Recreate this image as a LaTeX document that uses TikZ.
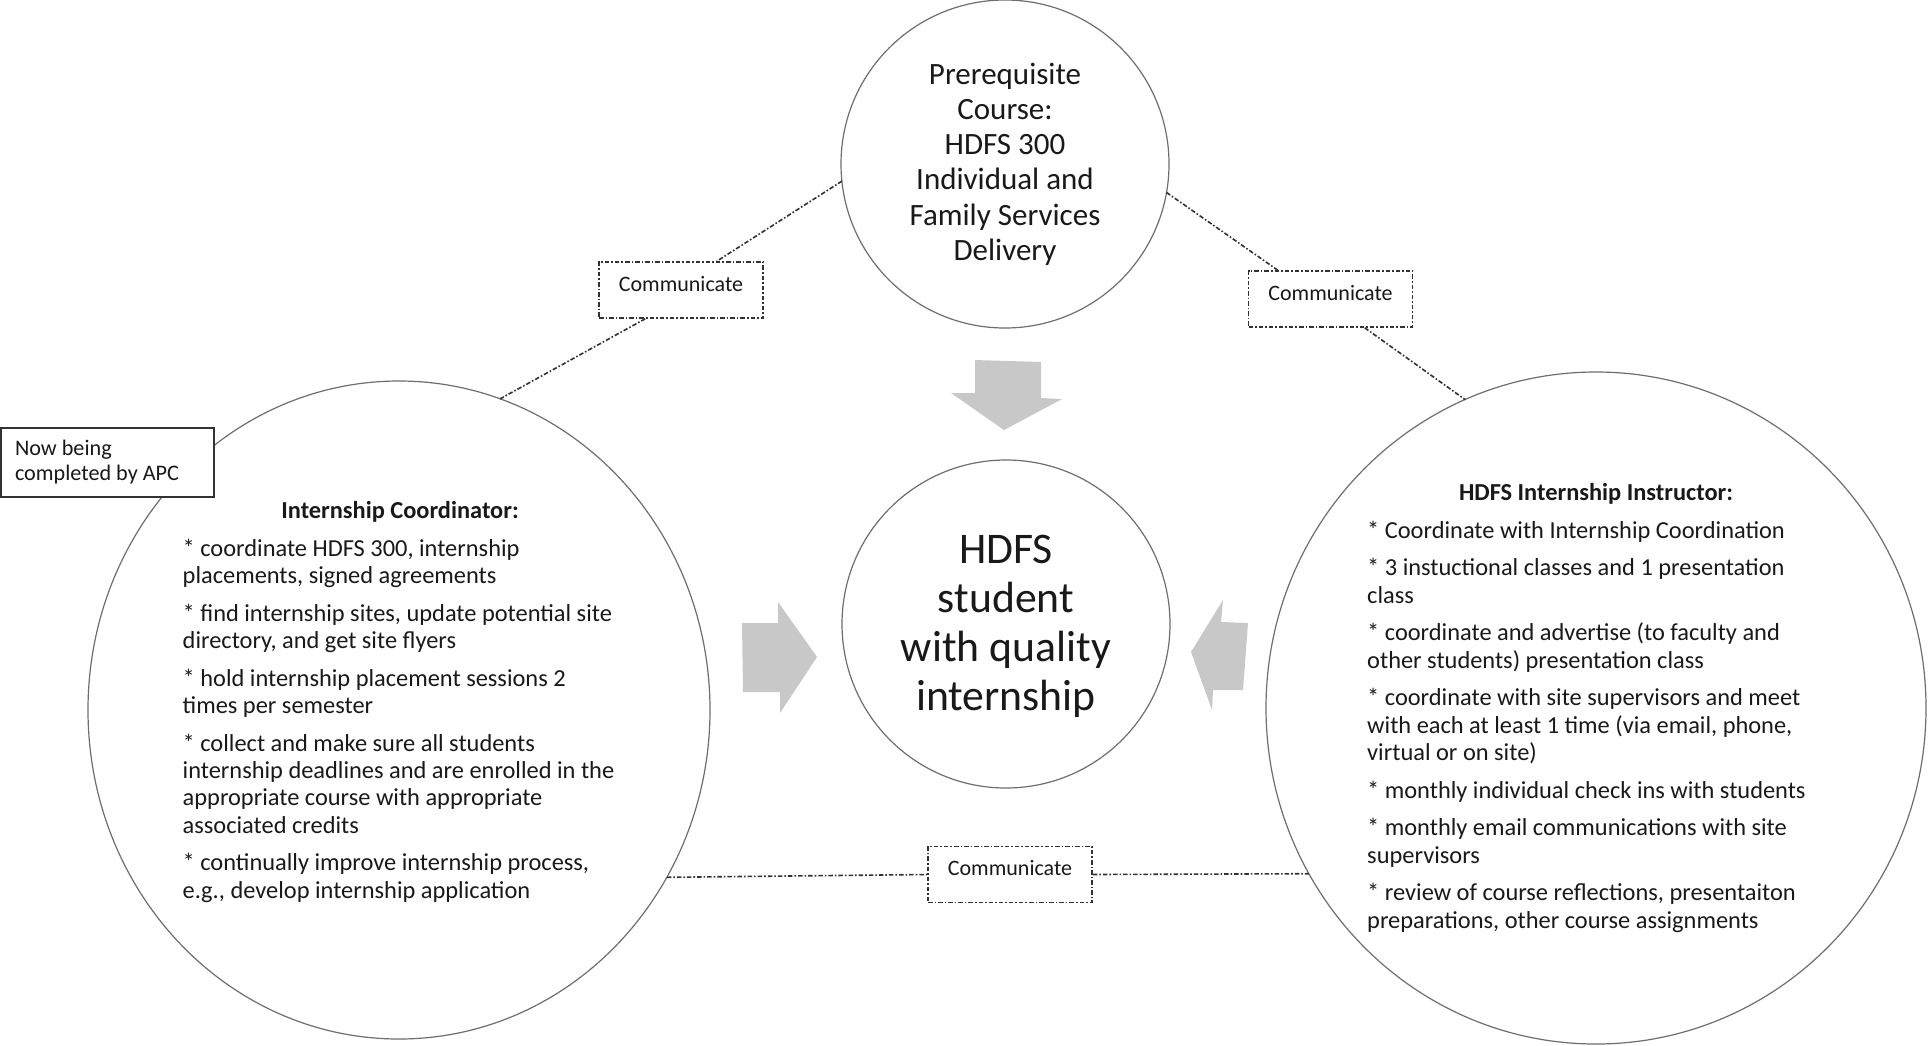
\documentclass[tikz,border=0pt]{standalone}
\usepackage{fontspec}
\setmainfont{Carlito}
\usetikzlibrary{shapes.geometric}
\definecolor{arrowgray}{RGB}{200,200,200}
\definecolor{linegray}{RGB}{50,50,50}
\definecolor{outline}{RGB}{110,110,110}
\definecolor{txt}{RGB}{25,25,25}
\begin{document}
\begin{tikzpicture}[x=1pt,y=-1pt,
  bubble/.style={draw=outline, line width=1.2pt, inner sep=0pt, outer sep=0pt},
  commbox/.style={draw=linegray, line width=1.6pt, dash pattern=on 4.5pt off 2pt on 1.6pt off 2pt,
    fill=white, minimum width=164pt, minimum height=56pt, inner sep=0pt,
    font=\fontsize{22}{26}\selectfont, text=txt},
  link/.style={draw=linegray, line width=1.6pt, dash pattern=on 4.5pt off 2pt on 1.6pt off 2pt},
  bigarrow/.style={fill=arrowgray, draw=none},
  bodytext/.style={inner sep=0pt, anchor=base west, text=txt},
  titletext/.style={inner sep=0pt, anchor=base, text=txt, font=\fontsize{24.4}{27.3}\selectfont\bfseries},
  ctext/.style={inner sep=0pt, anchor=base, text=txt}
]
\useasboundingbox (0,0) rectangle (1929,1045);
\fill[white] (0,0) rectangle (1929,1045);

% bubbles
\node[bubble, circle, minimum size=328pt] (top) at (1005,164) {};
\node[bubble, circle, minimum size=328pt] (ctr) at (1006,624) {};
\node[bubble, ellipse, minimum width=622pt, minimum height=658pt] (L) at (399,710) {};
\node[bubble, ellipse, minimum width=660pt, minimum height=672pt] (R) at (1596,708) {};

% communicate boxes
\node[commbox] (lc) at (681,290) {\raisebox{13pt}{Communicate}};
\node[commbox] (rc) at (1330.5,299) {\raisebox{13pt}{Communicate}};
\node[commbox] (bc) at (1010,874.5) {\raisebox{13pt}{Communicate}};

% links
\draw[link] (top.186.3) -- ([xshift=-47pt]lc.north east);
\draw[link] ([xshift=47pt]lc.south west) -- (L.72.6);
\draw[link] (top.350.7) -- ([xshift=30pt]rc.north west);
\draw[link] ([xshift=117pt]rc.south west) -- (R.113.4);
\draw[link] (L.-32) -- (bc.west);
\draw[link] (bc.east) -- (R.210.3);

% big arrows
\path[bigarrow] (975,360) -- (1041,362) -- (1041,398) -- (1062,399) -- (1004,430) -- (951,393) -- (975,393) -- cycle;
\path[bigarrow] (742,623) -- (778,623) -- (778,602) -- (817,657) -- (780,713) -- (780,692) -- (743,692) -- cycle;
\path[bigarrow] (1248,623) -- (1221,622) -- (1223,600) -- (1191,652) -- (1212,710) -- (1213,690) -- (1243,690) -- cycle;

% circle texts
\node[ctext] (toptext) at (1005,84) {\parbox[t]{300pt}{\centering\fontsize{31}{35.3}\selectfont
  Prerequisite\\Course:\\HDFS 300\\Individual and\\Family Services\\Delivery}};
\node[ctext] (ctrtext) at (1006,563) {\parbox[t]{300pt}{\centering\fontsize{43.7}{49}\selectfont
  HDFS\\student\\with quality\\internship}};

% left ellipse text
\node[titletext] (ltitle) at (400,518) {Internship Coordinator:};
\node[bodytext] (ltext) at (182.5,556.6) {\parbox[t]{500pt}{\raggedright\fontsize{24.4}{27.3}\selectfont
  * coordinate HDFS 300, internship\\
  placements, signed agreements\\[10.3pt]
  * find internship sites, update potential site\\
  directory, and get site flyers\\[10.3pt]
  * hold internship placement sessions 2\\
  times per semester\\[10.3pt]
  * collect and make sure all students\\
  internship deadlines and are enrolled in the\\
  appropriate course with appropriate\\
  associated credits\\[10.3pt]
  * continually improve internship process,\\
  e.g., develop internship application}};

% right ellipse text
\node[titletext] (rtitle) at (1596,500.7) {HDFS Internship Instructor:};
\node[bodytext] (rtext) at (1367,538) {\parbox[t]{520pt}{\raggedright\fontsize{24.4}{27.3}\selectfont
  * Coordinate with Internship Coordination\\[10.4pt]
  * 3 instuctional classes and 1 presentation\\
  class\\[10.4pt]
  * coordinate and advertise (to faculty and\\
  other students) presentation class\\[10.4pt]
  * coordinate with site supervisors and meet\\
  with each at least 1 time (via email, phone,\\
  virtual or on site)\\[10.4pt]
  * monthly individual check ins with students\\[10.4pt]
  * monthly email communications with site\\
  supervisors\\[10.4pt]
  * review of course reflections, presentaiton\\
  preparations, other course assignments}};

% note box
\node[draw=linegray, line width=1.6pt, fill=white, minimum width=213pt, minimum height=69pt,
  inner sep=0pt, text=txt] (apc) at (107.5,462.5)
  {\parbox{185pt}{\raggedright\fontsize{22.2}{25}\selectfont Now being\\completed by APC}};
\end{tikzpicture}
\end{document}
